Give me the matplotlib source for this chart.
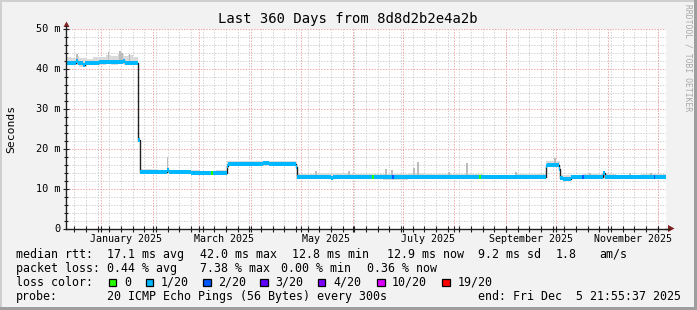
import matplotlib
matplotlib.use('Agg')
import matplotlib.pyplot as plt
import matplotlib.dates as mdates
from matplotlib.patches import Rectangle, Polygon
from matplotlib.lines import Line2D
import numpy as np
from datetime import datetime, timedelta

# ---------------- data ----------------
START = datetime(2024, 12, 10, 21, 55, 37)
END = datetime(2025, 12, 5, 21, 55, 37)

# median rtt (ms), step changes, x = days after START
med_days = [0, 6.0, 7.0, 10.2, 11.6, 20.0, 34.4, 35.4, 43.2, 44.4, 60.6, 61.6, 75,
            96.6, 97.4, 118, 122, 138.0, 138.6, 150, 159.0, 160.2, 180, 196, 230,
            250, 265, 288.0, 288.6, 295.8, 296.4, 298.0, 303.0, 322.2, 323.4, 340]
med_ms = [41.5, 41.9, 41.4, 40.8, 41.5, 41.6, 42.0, 41.5, 22.2, 14.1, 14.6, 14.1, 14.0,
          15.6, 16.2, 16.3, 16.1, 15.5, 12.9, 13.0, 12.7, 12.9, 12.9, 12.8, 12.9,
          12.8, 12.9, 15.6, 16.0, 15.0, 12.7, 12.5, 12.8, 13.8, 12.8, 12.9]

# smoke envelope (ms)
smoke_days = [0, 3, 6, 8, 12, 16, 20, 24, 27, 31, 35, 37, 40, 43.2, 44.4, 48, 55, 66,
              80, 90, 96.6, 105, 115, 125, 138.6, 150, 170, 190, 205, 215, 235, 250,
              270, 288, 296.4, 310, 330, 345]
smoke_hi = [42.9, 42.6, 43.2, 42.7, 42.5, 43.0, 42.8, 43.4, 43.1, 43.6, 43.2, 43.5, 42.8,
            23.0, 14.9, 14.8, 14.6, 14.7, 14.5, 14.6, 16.8, 17.0, 16.9, 16.8, 13.6,
            13.8, 13.6, 13.7, 13.9, 13.6, 13.7, 13.5, 13.7, 16.8, 13.5, 13.6, 13.5, 13.6]
smoke_lo = [41.0, 41.1, 41.0, 40.4, 41.0, 41.1, 41.0, 41.2, 41.0, 41.1, 41.0, 41.1, 41.0,
            21.8, 13.6, 13.7, 13.6, 13.6, 13.7, 13.6, 15.7, 15.8, 15.7, 15.6, 12.4,
            12.4, 12.3, 12.2, 12.3, 12.4, 12.3, 12.4, 12.4, 15.5, 12.3, 12.4, 12.3, 12.4]

# single tall smoke spikes
spike_days = [6.6, 25.5, 32.5, 33.5, 38.0, 61.0, 150.0, 169.8, 192.0, 195.6, 208.8,
              211.2, 229.8, 240.6, 270.0, 293.4, 314.4, 338.4, 351.0]
spike_ms = [43.6, 44.0, 44.3, 43.9, 43.7, 18.0, 14.4, 14.4, 14.8, 14.6, 15.2,
            16.7, 14.2, 16.4, 14.0, 17.6, 13.8, 14.0, 13.8]

# loss colour legend
loss_labels = ["0", "1/20", "2/20", "3/20", "4/20", "10/20", "19/20"]
loss_colors = ["#26ff00", "#00b8ff", "#0059ff", "#5e00ff", "#7e00ff", "#dd00ff", "#ff0000"]
# default loss level is 1/20 (index 1); exceptions below
loss_exc_days = [87.6, 184.2, 196.2, 248.4, 310.2, 353.0]
loss_exc_level = [0, 0, 2, 0, 2, 2]

y_ticks = [0, 10, 20, 30, 40, 50]
y_tick_labels = ["0", "10 m", "20 m", "30 m", "40 m", "50 m"]
month_labels = ["January 2025", "March 2025", "May 2025", "July 2025",
                "September 2025", "November 2025"]
month_label_dates = [datetime(2025, 1, 16), datetime(2025, 3, 16), datetime(2025, 5, 16),
                     datetime(2025, 7, 16), datetime(2025, 9, 16), datetime(2025, 11, 16)]

title = "Last 360 Days from 8d8d2b2e4a2b"
legend_rows = [
    [("median rtt:", 16), ("17.1 ms avg", 107.3), ("42.0 ms max", 200), ("12.8 ms min", 292),
     ("12.9 ms now", 386.7), ("9.2 ms sd", 478), ("1.8", 556), ("am/s", 599)],
    [("packet loss:", 16), ("0.44 % avg", 107.3), ("7.38 % max", 200), ("0.00 % min", 281),
     ("0.36 % now", 366.5)],
]
probe_text = "20 ICMP Echo Pings (56 Bytes) every 300s"
end_text = "end: Fri Dec  5 21:55:37 2025"

# ---------------- layout ----------------
W, H = 697, 310
MONO = "DejaVu Sans Mono"
fig = plt.figure(figsize=(W / 100, H / 100), dpi=100)
fig.patch.set_facecolor("#f2f2f2")

def fx(x):
    return x / W

def fy(y):
    return 1 - y / H

PL, PR, PT, PB = 66, 666, 28.5, 228.5
ax = fig.add_axes([fx(PL), fy(PB), (PR - PL) / W, (PB - PT) / H])
ax.set_facecolor("white")

t0 = mdates.date2num(START)
t1 = mdates.date2num(END)

def d2n(days):
    return t0 + np.asarray(days, dtype=float)

ax.set_xlim(t0, t1)
ax.set_ylim(0, 50)

# grid
minor_c = "#d2d2d2"
major_c = "#eeaaaa"
ls = (0, (1.4, 1.4))
for v in np.arange(2, 50, 2):
    if v % 10:
        ax.axhline(v, color=minor_c, lw=0.72, ls=ls, zorder=1)
wk = datetime(2024, 12, 16)
while wk < END:
    ax.axvline(mdates.date2num(wk), color=minor_c, lw=0.72, ls=ls, zorder=1)
    wk += timedelta(days=7)
for v in range(10, 51, 10):
    ax.axhline(v, color=major_c, lw=0.72, ls=ls, zorder=1.2)
month_starts = [datetime(2025, m, 1) for m in range(1, 13)]
for m in month_starts:
    ax.axvline(mdates.date2num(m), color=major_c, lw=0.72, ls=ls, zorder=1.2)

# smoke
sx = np.append(d2n(smoke_days), t1)
ax.fill_between(sx, np.append(smoke_lo, smoke_lo[-1]), np.append(smoke_hi, smoke_hi[-1]),
                step="post", color="#dadada", lw=0, zorder=2)

md = np.asarray(med_days)
mv = np.asarray(med_ms)

def med_at(d):
    i = np.searchsorted(md, d, side="right") - 1
    return mv[i]

sb = np.array([med_at(d) for d in spike_days])
ax.bar(d2n(spike_days), np.asarray(spike_ms) - sb, bottom=sb, width=0.9,
       color="#bcbcbc", lw=0, zorder=2.5, align="center")

# median line
mx = np.append(d2n(med_days), t1)
my = np.append(mv, mv[-1])
ax.step(mx, my, where="post", color="#202020", lw=1.0, zorder=3)

# loss-colored band
hw = 0.5
ax.fill_between(mx, my - hw, my + hw, step="post", color=loss_colors[1], lw=0, zorder=4)
for d, lv in zip(loss_exc_days, loss_exc_level):
    m = med_at(d)
    ax.fill_between([d2n(d) - 0.4, d2n(d) + 0.4], m - hw, m + hw,
                    color=loss_colors[lv], lw=0, zorder=5)

# spines and ticks
for s in ("top", "right"):
    ax.spines[s].set_visible(False)
for s in ("left", "bottom"):
    ax.spines[s].set_color("#1f1f1f")
    ax.spines[s].set_linewidth(1.0)
    ax.spines[s].set_zorder(6)

ax.set_yticks(y_ticks)
ax.set_yticklabels(y_tick_labels, fontfamily=MONO, fontsize=7.4)
ax.set_yticks(np.arange(0, 51, 2), minor=True)
ax.tick_params(axis="y", which="major", direction="inout", length=4, width=0.8,
               color="#1f1f1f", pad=2.2)
ax.tick_params(axis="y", which="minor", direction="inout", length=2.5, width=0.8,
               color="#1f1f1f")

ax.set_xticks([mdates.date2num(d) for d in month_label_dates])
ax.set_xticklabels(month_labels, fontfamily=MONO, fontsize=7.2)
minor_x = [mdates.date2num(m) for m in month_starts]
wk = datetime(2024, 12, 16)
while wk < END:
    minor_x.append(mdates.date2num(wk))
    wk += timedelta(days=7)
ax.set_xticks(minor_x, minor=True)
ax.tick_params(axis="x", which="major", length=0, pad=4)
ax.tick_params(axis="x", which="minor", direction="inout", length=4, width=0.8,
               color="#1f1f1f")

# axis extensions and arrows
fig.add_artist(Line2D([fx(PL), fx(PL)], [fy(PT), fy(26)], color="#1f1f1f", lw=1.0))
fig.add_artist(Line2D([fx(PR), fx(669)], [fy(PB), fy(PB)], color="#1f1f1f", lw=1.0))
fig.add_artist(Polygon([(fx(63.5), fy(27)), (fx(69.5), fy(27)), (fx(66.5), fy(21.5))],
                       closed=True, color="#801f1f", lw=0))
fig.add_artist(Polygon([(fx(668), fy(225)), (fx(668), fy(232)), (fx(674.5), fy(228.5))],
                       closed=True, color="#801f1f", lw=0))

# texts
fig.text(fx(348), fy(19.5), title, ha="center", va="center", fontfamily=MONO, fontsize=10)
fig.text(fx(11), fy(128.5), "Seconds", ha="center", va="center", rotation=90,
         fontfamily=MONO, fontsize=8.2)
fig.text(fx(688), fy(4), "RRDTOOL / TOBI OETIKER", ha="center", va="top", rotation=270,
         fontfamily=MONO, fontsize=5.8, color="#a8a8a8")

LF = 8.4
row_y = [254.3, 268.3, 282.3, 296.3]
for row, y in zip(legend_rows, row_y[:2]):
    for txt, x in row:
        fig.text(fx(x), fy(y), txt, ha="left", va="center", fontfamily=MONO, fontsize=LF)

fig.text(fx(16), fy(row_y[2]), "loss color:", ha="left", va="center", fontfamily=MONO, fontsize=LF)
box_x = [108.7, 145.7, 203.0, 260.3, 317.7, 377.0, 442.3]
lab_x = [124.0, 160.7, 218.0, 275.7, 333.0, 391.5, 457.3]
for c, lab, bx, lx in zip(loss_colors, loss_labels, box_x, lab_x):
    fig.add_artist(Rectangle((fx(bx), fy(row_y[2] + 3.8)), 7.6 / W, 7.6 / H,
                             facecolor=c, edgecolor="black", lw=0.9))
    fig.text(fx(lx), fy(row_y[2]), lab, ha="left", va="center", fontfamily=MONO, fontsize=LF)

fig.text(fx(16), fy(row_y[3]), "probe:", ha="left", va="center", fontfamily=MONO, fontsize=LF)
fig.text(fx(107.3), fy(row_y[3]), probe_text, ha="left", va="center", fontfamily=MONO, fontsize=LF)
fig.text(fx(478.3), fy(row_y[3]), end_text, ha="left", va="center", fontfamily=MONO, fontsize=LF)

# 3D border
fig.add_artist(Rectangle((0, fy(2)), 1, 2 / H, color="#cfcfcf", lw=0))
fig.add_artist(Rectangle((0, 0), 2 / W, 1, color="#cfcfcf", lw=0))
fig.add_artist(Rectangle((fx(694), 0), 3 / W, 1, color="#9e9e9e", lw=0))
fig.add_artist(Rectangle((0, 0), 1, 3 / H, color="#9e9e9e", lw=0))

fig.savefig("out.png", dpi=100, facecolor=fig.get_facecolor())
